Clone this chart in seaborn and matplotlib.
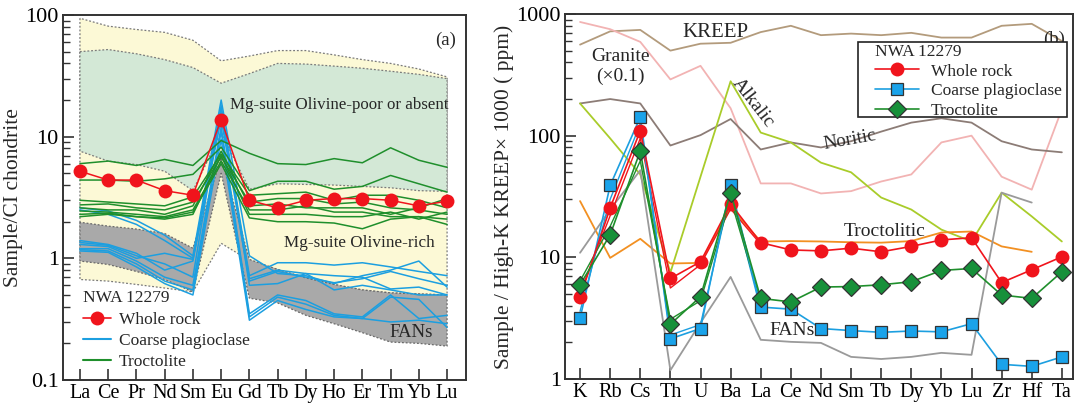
import numpy as np
import pandas as pd
import matplotlib
matplotlib.use("Agg")
import matplotlib.pyplot as plt
import seaborn as sns
from matplotlib.ticker import FixedLocator, FuncFormatter, LogLocator, NullFormatter
from matplotlib.lines import Line2D
from matplotlib.patches import Rectangle

# ---------------- data: panel (a) ----------------
ree = ["La", "Ce", "Pr", "Nd", "Sm", "Eu", "Gd", "Tb", "Dy", "Ho", "Er", "Tm", "Yb", "Lu"]

whole_rock_a = [5.2, 4.4, 4.4, 3.6, 3.3, 13.8, 3.0, 2.6, 3.0, 3.1, 3.1, 3.0, 2.7, 2.95]

troct_a = [
    [6.0, 6.3, 5.8, 6.5, 5.8, 9.3, 7.3, 6.0, 5.9, 6.6, 6.1, 8.1, 6.4, 5.6],
    [4.4, 4.4, 4.3, 4.5, 4.9, 8.2, 3.6, 4.3, 4.3, 3.7, 3.9, 4.8, 4.1, 3.5],
    [3.0, 2.9, 2.8, 2.7, 3.2, 7.2, 3.3, 3.4, 3.5, 3.0, 3.3, 3.3, 3.0, 2.6],
    [2.75, 2.8, 2.6, 2.5, 2.9, 6.8, 2.9, 3.1, 3.1, 2.8, 2.9, 2.6, 2.5, 2.3],
    [2.6, 2.5, 2.5, 2.3, 2.7, 7.6, 2.7, 2.8, 2.6, 2.6, 2.6, 2.3, 2.6, 3.1],
    [2.45, 2.4, 2.3, 2.2, 2.5, 6.3, 2.5, 2.5, 2.7, 2.4, 2.4, 2.2, 2.2, 2.1],
    [2.3, 2.35, 2.2, 2.15, 2.4, 6.0, 2.15, 2.0, 2.0, 1.95, 1.75, 2.1, 2.2, 1.9],
    [2.2, 2.3, 2.2, 2.1, 2.3, 7.0, 2.3, 2.3, 2.3, 2.2, 2.2, 2.4, 2.1, 2.4],
]

plag_a = [
    [2.6, 2.45, 2.05, 1.55, 1.05, 20.0, 1.05, 0.75, 0.72, 0.62, 0.72, 0.8, 0.95, 0.58],
    [2.5, 2.3, 1.9, 1.4, 1.0, 17.0, 0.72, 0.92, 0.92, 0.88, 0.92, 0.85, 0.78, 0.72],
    [1.4, 1.3, 1.1, 0.8, 0.95, 16.0, 0.68, 0.8, 0.75, 0.72, 0.7, 0.56, 0.58, 0.5],
    [1.3, 1.25, 1.0, 1.1, 0.98, 14.0, 0.65, 0.78, 0.7, 0.63, 0.68, 0.78, 0.68, 0.6],
    [1.2, 1.2, 0.95, 0.7, 0.6, 12.0, 0.35, 0.5, 0.45, 0.35, 0.33, 0.5, 0.32, 0.34],
    [1.18, 1.15, 0.9, 0.65, 0.55, 11.0, 0.33, 0.48, 0.42, 0.34, 0.32, 0.3, 0.31, 0.29],
    [1.15, 1.12, 0.85, 0.62, 0.5, 9.5, 0.31, 0.45, 0.38, 0.33, 0.32, 0.48, 0.46, 0.27],
    [1.35, 1.28, 1.05, 0.9, 0.7, 18.0, 0.6, 0.62, 0.75, 0.55, 0.6, 0.55, 0.5, 0.5],
]

olrich_top = [94, 81, 76, 72, 62, 42, 46, 51, 51, 47, 43, 40, 36, 31]
olrich_bot = [0.67, 0.65, 0.61, 0.57, 0.53, 1.33, 0.96, 0.81, 0.69, 0.61, 0.55, 0.52, 0.51, 0.5]
olpoor_top = [50, 52, 48, 43, 37, 27.5, 33, 40, 39.5, 38, 36.5, 34.5, 32.5, 30]
olpoor_bot = [7.6, 6.3, 5.9, 5.2, 3.6, 10.7, 3.7, 4.1, 4.05, 4.0, 3.9, 3.8, 3.6, 3.55]
fan_top = [1.98, 1.84, 1.74, 1.6, 1.21, 6.7, 0.98, 0.81, 0.69, 0.61, 0.55, 0.52, 0.51, 0.5]
fan_bot = [0.95, 0.89, 0.78, 0.67, 0.53, 5.0, 0.47, 0.43, 0.34, 0.29, 0.245, 0.205, 0.2, 0.19]

# ---------------- data: panel (b) ----------------
elems = ["K", "Rb", "Cs", "Th", "U", "Ba", "La", "Ce", "Nd", "Sm", "Tb", "Dy", "Yb", "Lu", "Zr", "Hf", "Ta"]

whole_rock_b = [4.7, 25.5, 110, 6.7, 9.2, 27.5, 13.2, 11.5, 11.3, 11.9, 11.1, 12.3, 13.9, 14.5, 6.2, 7.9, 10.1]
plag_b = [3.15, 39, 142, 2.14, 2.6, 39, 3.9, 3.75, 2.6, 2.5, 2.42, 2.48, 2.44, 2.85, 1.32, 1.27, 1.52]
troct_b = [5.95, 15.3, 75, 2.82, 4.75, 34, 4.6, 4.3, 5.7, 5.75, 5.95, 6.3, 7.8, 8.1, 4.9, 4.6, 7.6]

# individual analyses (first elements only)
lile = ["K", "Rb", "Cs", "Th", "U", "Ba", "La"]
wr_extra = [5.1, 22, 95, 5.6, 8.7, 25, 12.8]
plag_extra = [3.6, 30, 125, 2.3, 2.8, 35, 3.7]
troct_extra = [6.4, 18, 62, 3.1, 4.4, 30, 4.3]

kreep = [560, 720, 740, 500, 570, 580, 710, 800, 670, 690, 670, 700, 640, 640, 800, 830, 600]
granite = [860, 750, 590, 290, 375, 168, 40.5, 40.5, 33.5, 35, 42, 48, 88, 100, 46, 36, 165]
noritic = [184, 200, 184, 83, 101, 137, 77, 88, 80, 90, 108, 128, 139, 128, 90, 77, 73]
alkalic = [184, 95, 48, 7.5, 46, 280, 106, 88, 60, 50, 31, 24.7, 16.9, 13.5, 34, 21.7, 13.5]
troctolitic = [29, 9.9, 14.2, 8.9, 9.0, 25.6, 13.5, 13.6, 13.5, 13.3, 13.2, 13.6, 16, 16.3, 12.3, 11.1]
fans_b = [10.9, 24.7, 52, 1.18, 2.9, 6.9, 2.1, 2.02, 1.98, 1.52, 1.46, 1.52, 1.64, 1.58, 34, 28.2]

# ---------------- style ----------------
sns.set_style("ticks")
SERIF = ["Liberation Serif", "DejaVu Serif"]
plt.rcParams["font.family"] = SERIF
plt.rcParams["font.serif"] = SERIF

RED = "#f0141c"
BLUE = "#1c9fe0"
GREEN = "#1f8f2c"
DGREEN = "#17903a"

fig = plt.figure(figsize=(10.82, 4.04), dpi=100)
axa = fig.add_axes([63 / 1082, (404 - 380) / 404, 403 / 1082, 365 / 404])
axb = fig.add_axes([565 / 1082, (404 - 379) / 404, 508 / 1082, 365 / 404])


def series_df(labels, values):
    n = min(len(labels), len(values))
    return pd.DataFrame({"x": np.arange(n), "y": values[:n]})


def style_axis(ax, labels, xlim, ylim, ylabel):
    ax.set_yscale("log")
    ax.set_xlim(*xlim)
    ax.set_ylim(*ylim)
    ax.xaxis.set_major_locator(FixedLocator(range(len(labels))))
    ax.set_xticklabels(labels, family=SERIF)
    ax.yaxis.set_major_locator(LogLocator(base=10))
    ax.yaxis.set_minor_locator(LogLocator(base=10, subs=np.arange(2, 10)))
    ax.yaxis.set_major_formatter(FuncFormatter(lambda v, p: f"{v:g}"))
    ax.yaxis.set_minor_formatter(NullFormatter())
    ax.tick_params(axis="both", which="major", direction="in", length=8, width=1.2,
                   colors="#333333", labelcolor="black")
    ax.tick_params(axis="x", which="major", labelsize=14.5, pad=3)
    ax.tick_params(axis="y", which="major", labelsize=16, pad=3)
    ax.tick_params(axis="y", which="minor", direction="in", length=5, width=1.0, colors="#333333")
    for s in ax.spines.values():
        s.set_color("#333333")
        s.set_linewidth(1.4)
    ax.set_ylabel(ylabel, fontsize=15.5, labelpad=2, family=SERIF)
    ax.set_xlabel("")


def serif_legend(leg, size):
    for t in leg.get_texts():
        t.set_fontfamily(SERIF)
        t.set_fontsize(size)
    leg.get_title().set_fontfamily(SERIF)
    leg.get_title().set_fontsize(size)


# ---------------- panel (a) ----------------
xa = np.arange(len(ree))
axa.fill_between(xa, olrich_bot, olrich_top, facecolor="#fcf9d6", edgecolor="#7a7a7a",
                 linestyle=(0, (1.5, 1.5)), linewidth=0.9, zorder=1)
axa.fill_between(xa, olpoor_bot, olpoor_top, facecolor="#d3e8d6", edgecolor="#7a7a7a",
                 linestyle=(0, (1.5, 1.5)), linewidth=0.9, zorder=2)
axa.fill_between(xa, fan_bot, fan_top, facecolor="#a9a9a9", edgecolor="#6a6a6a",
                 linestyle=(0, (1.5, 1.5)), linewidth=0.9, zorder=2)

for vals in plag_a:
    sns.lineplot(data=series_df(ree, vals), x="x", y="y", ax=axa, color=BLUE,
                 linewidth=1.1, estimator=None, sort=False, zorder=3)
for vals in troct_a:
    sns.lineplot(data=series_df(ree, vals), x="x", y="y", ax=axa, color=GREEN,
                 linewidth=1.1, estimator=None, sort=False, zorder=4)
sns.lineplot(data=series_df(ree, whole_rock_a), x="x", y="y", ax=axa, color=RED,
             linewidth=1.1, marker="o", markersize=10, markeredgewidth=0,
             estimator=None, sort=False, zorder=5)

style_axis(axa, ree, (-0.6, 13.67), (0.1, 100), "Sample/CI chondrite")

axa.text(0.975, 0.955, "(a)", transform=axa.transAxes, ha="right", va="top", fontsize=13.5)
axa.text(9.17, 18.2, "Mg-suite Olivine-poor or absent", ha="center", va="center", fontsize=12.2, zorder=6)
axa.text(9.9, 1.33, "Mg-suite Olivine-rich", ha="center", va="center", fontsize=12.3, zorder=6)
axa.text(11.73, 0.246, "FANs", ha="center", va="center", fontsize=13.5, zorder=6)

handles_a = [
    Line2D([], [], color=RED, marker="o", markersize=10, markeredgewidth=0, linewidth=1.2),
    Line2D([], [], color=BLUE, linewidth=1.5),
    Line2D([], [], color=GREEN, linewidth=1.5),
]
lega = axa.legend(handles_a, ["Whole rock", "Coarse plagioclase", "Troctolite"],
                  title="NWA 12279", loc="lower left", bbox_to_anchor=(0.025, -0.002),
                  frameon=False, fontsize=12.5, title_fontsize=12.5, handlelength=1.6,
                  handletextpad=0.45, labelspacing=0.3, borderaxespad=0.2, alignment="left")
serif_legend(lega, 12.5)
lega.set_zorder(10)

# ---------------- panel (b) ----------------
ref_lines = [
    (kreep, "#b39b7c"),
    (granite, "#f2b3b3"),
    (noritic, "#8c7c76"),
    (alkalic, "#a9cc2a"),
    (troctolitic, "#f29022"),
    (fans_b, "#9a9a9a"),
]
for vals, col in ref_lines:
    sns.lineplot(data=series_df(elems, vals), x="x", y="y", ax=axb, color=col,
                 linewidth=1.3, estimator=None, sort=False, zorder=2)

for vals, col in [(wr_extra, RED), (plag_extra, BLUE), (troct_extra, GREEN)]:
    sns.lineplot(data=series_df(lile, vals), x="x", y="y", ax=axb, color=col,
                 linewidth=1.0, estimator=None, sort=False, zorder=3)

sns.lineplot(data=series_df(elems, plag_b), x="x", y="y", ax=axb, color=BLUE, linewidth=1.2,
             marker="s", markersize=9, markerfacecolor="#1aa3ea", markeredgecolor="#333333",
             markeredgewidth=0.9, estimator=None, sort=False, zorder=4)
sns.lineplot(data=series_df(elems, whole_rock_b), x="x", y="y", ax=axb, color=RED, linewidth=1.2,
             marker="o", markersize=10, markeredgewidth=0, estimator=None, sort=False, zorder=5)
sns.lineplot(data=series_df(elems, troct_b), x="x", y="y", ax=axb, color=GREEN, linewidth=1.2,
             marker="D", markersize=9, markerfacecolor=DGREEN, markeredgecolor="#333333",
             markeredgewidth=0.9, estimator=None, sort=False, zorder=6)

style_axis(axb, elems, (-0.5, 16.37), (1, 1000), "Sample / High-K KREEP× 1000 ( ppm)")

axb.text(0.985, 0.955, "(b)", transform=axb.transAxes, ha="right", va="top", fontsize=13.5, zorder=7)
axb.text(4.5, 700, "KREEP", ha="center", va="center", fontsize=15)
axb.text(1.33, 373, "Granite\n(×0.1)", ha="center", va="center", fontsize=14, linespacing=1.2)
axb.text(5.75, 185, "Alkalic", ha="center", va="center", fontsize=14, rotation=-52)
axb.text(8.95, 93, "Noritic", ha="center", va="center", fontsize=13.5, rotation=10)
axb.text(10.12, 16.3, "Troctolitic", ha="center", va="center", fontsize=14)
axb.text(7.04, 2.5, "FANs", ha="center", va="center", fontsize=14, zorder=7)

handles_b = [
    Line2D([], [], color=RED, marker="o", markersize=10, markeredgewidth=0, linewidth=1.2),
    Line2D([], [], color=BLUE, marker="s", markersize=9, markerfacecolor="#1aa3ea",
           markeredgecolor="#333333", markeredgewidth=0.9, linewidth=1.2),
    Line2D([], [], color=GREEN, marker="D", markersize=9, markerfacecolor=DGREEN,
           markeredgecolor="#333333", markeredgewidth=0.9, linewidth=1.2),
]
# legend frame drawn as its own box
axb.add_patch(Rectangle((0.577, 0.718), 0.411, 0.205, transform=axb.transAxes,
                        facecolor="white", edgecolor="#222222", linewidth=1.2, zorder=9))
legb = axb.legend(handles_b, ["Whole rock", "Coarse plagioclase", "Troctolite"],
                  title="NWA 12279", loc="upper left", bbox_to_anchor=(0.611, 0.918),
                  frameon=False, fontsize=12.5, title_fontsize=12.5, handlelength=2.5,
                  handletextpad=0.7, labelspacing=0.2, borderpad=0.0, borderaxespad=0.0,
                  alignment="left")
serif_legend(legb, 12.5)
legb.set_zorder(10)

fig.savefig("out.png", dpi=100)
